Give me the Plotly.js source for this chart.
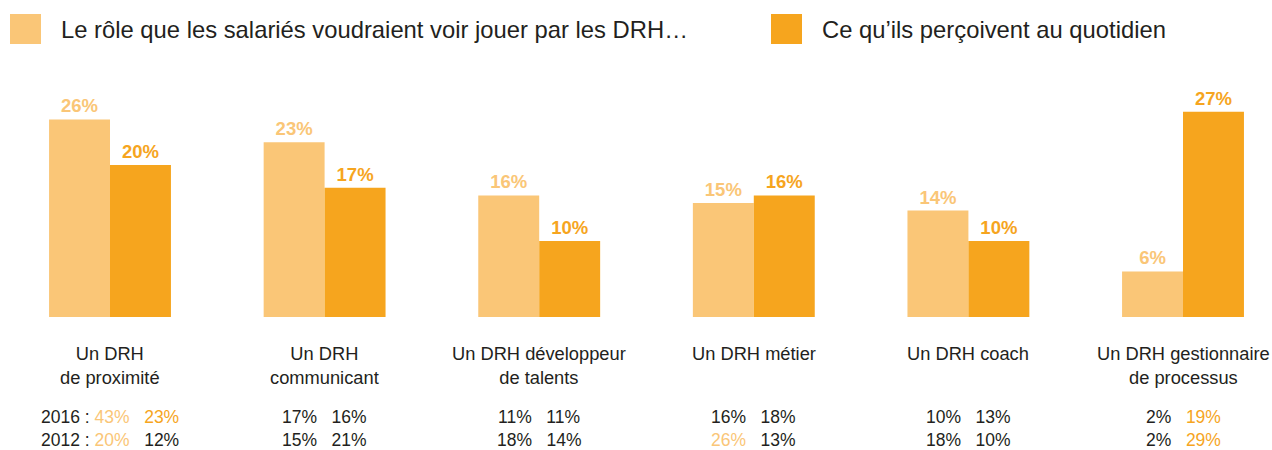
<!DOCTYPE html>
<html>
<head>
<meta charset="utf-8">
<script src="https://cdn.plot.ly/plotly-3.0.1.min.js"></script>
<style>html,body{margin:0;padding:0;background:#fff;}#chart{width:1272px;height:450px;}</style>
</head>
<body>
<div id="chart"></div>
<script>
// ---- data ----
const categories = ['Un DRH<br>de proximité', 'Un DRH<br>communicant', 'Un DRH développeur<br>de talents', 'Un DRH métier', 'Un DRH coach', 'Un DRH gestionnaire<br>de processus'];
const seriesNames = ['Le rôle que les salariés voudraient voir jouer par les DRH…', 'Ce qu’ils perçoivent au quotidien'];
const wished = [26, 23, 16, 15, 14, 6];
const perceived = [20, 17, 10, 16, 10, 27];
const years = ['2016', '2012'];
const wished2016 = [43, 17, 11, 16, 10, 2];
const perceived2016 = [23, 16, 11, 18, 13, 19];
const wished2012 = [20, 15, 18, 26, 18, 2];
const perceived2012 = [12, 21, 14, 13, 10, 29];
const hlWished2016 = [1, 0, 0, 0, 0, 0];
const hlPerceived2016 = [1, 0, 0, 0, 0, 1];
const hlWished2012 = [1, 0, 0, 1, 0, 0];
const hlPerceived2012 = [0, 0, 0, 0, 0, 1];

// ---- styles ----
const LIGHT = '#FAC677';
const DARK = '#F6A51E';
const TXT = '#231F20';
const FONT = 'Liberation Sans, Arial, Helvetica, sans-serif';

const x = categories.map((c, i) => i);

const traces = [
  {type: 'bar', x: x, y: wished, name: seriesNames[0], marker: {color: LIGHT},
   text: wished.map(v => v + '%'), textposition: 'outside', cliponaxis: false,
   textfont: {family: FONT, size: 18.5, color: LIGHT, weight: 'bold'}, hoverinfo: 'none'},
  {type: 'bar', x: x, y: perceived, name: seriesNames[1], marker: {color: DARK},
   text: perceived.map(v => v + '%'), textposition: 'outside', cliponaxis: false,
   textfont: {family: FONT, size: 18.5, color: DARK, weight: 'bold'}, hoverinfo: 'none'}
];

function fmt(v, hl, color) {
  const s = v + '%';
  return hl ? '<span style="color:' + color + '">' + s + '</span>' : s;
}
const SP = '\u00a0\u00a0\u00a0';

const W = 1272, TOP = 89, BASE = 317, PH = BASE - TOP;
const py = p => (BASE - p) / PH;

const annotations = [];
categories.forEach((c, i) => {
  annotations.push({x: i, y: 0, xref: 'x', yref: 'y', text: c, showarrow: false,
    xanchor: 'center', yanchor: 'top', yshift: -24, align: 'center',
    font: {family: FONT, size: 18.3, color: TXT}});
  const p16 = i === 0 ? years[0] + '\u00a0:\u00a0' : '';
  const p12 = i === 0 ? years[1] + '\u00a0:\u00a0' : '';
  const r16 = p16 + fmt(wished2016[i], hlWished2016[i], LIGHT) + SP + fmt(perceived2016[i], hlPerceived2016[i], DARK);
  const r12 = p12 + fmt(wished2012[i], hlWished2012[i], LIGHT) + SP + fmt(perceived2012[i], hlPerceived2012[i], DARK);
  annotations.push({x: i, y: 0, xref: 'x', yref: 'y', text: r16, showarrow: false,
    xanchor: 'center', yanchor: 'top', yshift: -88, align: 'center',
    font: {family: FONT, size: 17.5, color: TXT}});
  annotations.push({x: i, y: py(451), xref: 'x', yref: 'paper', text: r12, showarrow: false,
    xanchor: 'center', yanchor: 'bottom', align: 'center', borderpad: 0,
    font: {family: FONT, size: 17.5, color: TXT}});
});

// legend (manual)
const legendItems = [{x0: 10, x1: 41, tx: 59, color: LIGHT, label: seriesNames[0]},
                     {x0: 771, x1: 802, tx: 820, color: DARK, label: seriesNames[1]}];
const shapes = [];
legendItems.forEach(it => {
  shapes.push({type: 'rect', xref: 'paper', yref: 'paper', x0: it.x0 / W, x1: it.x1 / W,
    y0: py(44), y1: py(14), fillcolor: it.color, line: {width: 0}});
  annotations.push({xref: 'paper', yref: 'paper', x: it.tx / W, y: py(30), text: it.label,
    showarrow: false, xanchor: 'left', yanchor: 'middle',
    font: {family: FONT, size: 23.8, color: TXT}});
});

const layout = {
  width: 1272, height: 450,
  margin: {l: 0, r: 0, t: TOP, b: 450 - BASE, pad: 0},
  paper_bgcolor: '#fff', plot_bgcolor: '#fff',
  barmode: 'group', bargap: 0.432, bargroupgap: 0,
  showlegend: false,
  xaxis: {type: 'linear', range: [-0.5126, 5.4147], showticklabels: false, showgrid: false, zeroline: false, showline: false, ticks: ''},
  yaxis: {range: [0, 30], showticklabels: false, showgrid: false, zeroline: false, showline: false, ticks: ''},
  annotations: annotations,
  shapes: shapes,
  font: {family: FONT}
};

Plotly.newPlot('chart', traces, layout, {displayModeBar: false, staticPlot: true});
</script>
</body>
</html>
